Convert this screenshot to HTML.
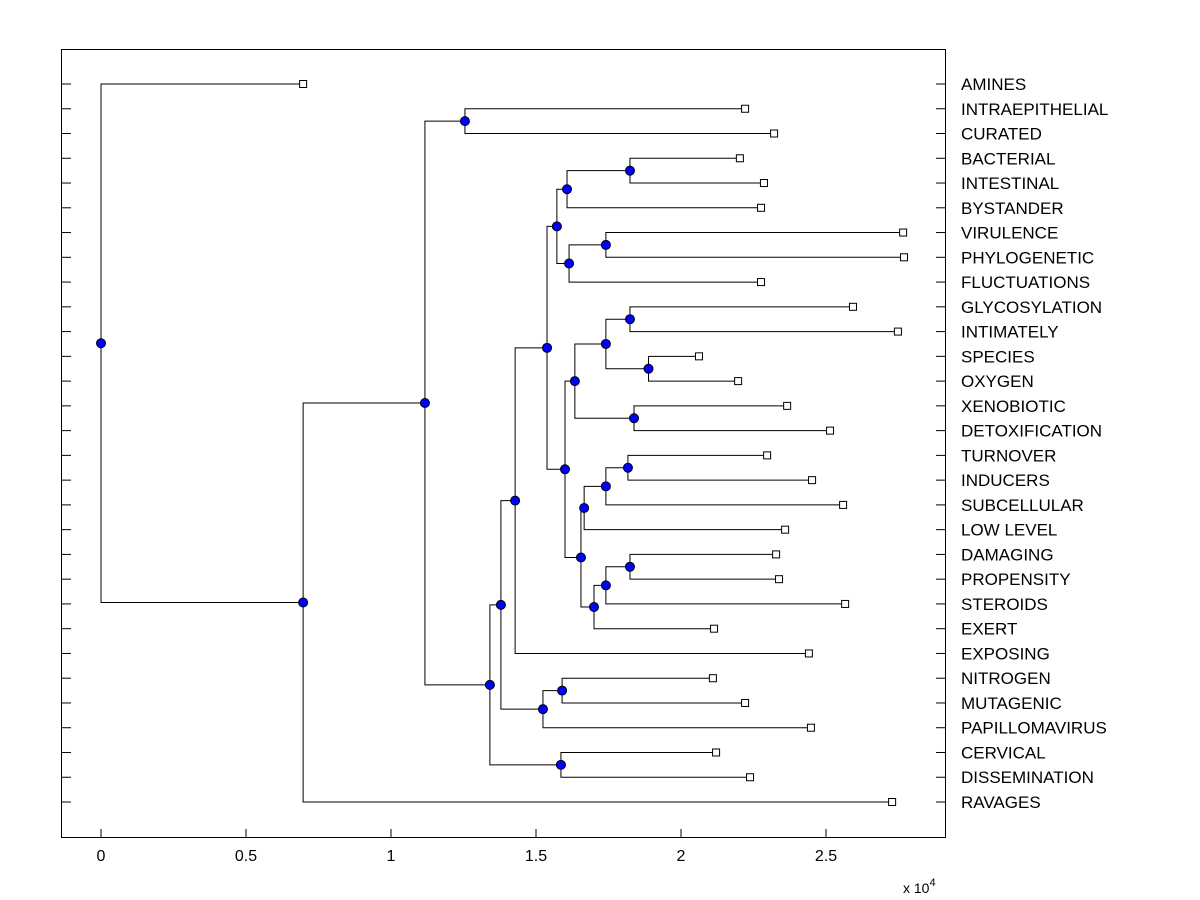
<!DOCTYPE html>
<html><head><meta charset="utf-8"><style>
body{margin:0;background:#fff;}
svg{display:block;font-family:"Liberation Sans",Arial,sans-serif;}
</style></head><body>
<svg id="chart" width="1200" height="900" viewBox="0 0 1200 900" xmlns="http://www.w3.org/2000/svg">
<rect x="0" y="0" width="1200" height="900" fill="#fff"/>
<rect x="61.5" y="49.5" width="884" height="788" fill="#fff" stroke="#000" stroke-width="1"/>
<g id="g"></g>
</svg>
<script>
const leafNames=["AMINES","INTRAEPITHELIAL","CURATED","BACTERIAL","INTESTINAL","BYSTANDER","VIRULENCE","PHYLOGENETIC","FLUCTUATIONS","GLYCOSYLATION","INTIMATELY","SPECIES","OXYGEN","XENOBIOTIC","DETOXIFICATION","TURNOVER","INDUCERS","SUBCELLULAR","LOW LEVEL","DAMAGING","PROPENSITY","STEROIDS","EXERT","EXPOSING","NITROGEN","MUTAGENIC","PAPILLOMAVIRUS","CERVICAL","DISSEMINATION","RAVAGES"];
const leafValues=[0.697,2.221,2.321,2.203,2.286,2.276,2.766,2.769,2.276,2.593,2.748,2.062,2.197,2.366,2.514,2.297,2.452,2.559,2.359,2.328,2.338,2.566,2.114,2.441,2.110,2.221,2.448,2.121,2.238,2.728];
const mergeLeft=[1,3,31,6,33,32,9,11,36,13,38,15,41,42,19,44,45,43,40,35,49,24,51,27,50,54,30,56,0];
const mergeRight=[2,4,5,7,8,34,10,12,37,14,39,16,17,18,20,21,22,46,47,48,23,25,26,28,52,53,55,29,57];
const mergeHeights=[1.255,1.824,1.607,1.741,1.614,1.572,1.824,1.888,1.741,1.838,1.634,1.817,1.741,1.666,1.824,1.741,1.700,1.655,1.600,1.538,1.428,1.590,1.524,1.586,1.379,1.341,1.117,0.697,0];
const xTicks=[0,0.5,1,1.5,2,2.5];
const xTickLabels=["0","0.5","1","1.5","2","2.5"];

const NS="http://www.w3.org/2000/svg";
const g=document.getElementById('g');
const X=v=>101+v*290;
const Y=i=>84+i*(802-84)/(leafNames.length-1);
function mk(t,a){const e=document.createElementNS(NS,t);for(const k in a)e.setAttribute(k,a[k]);g.appendChild(e);return e;}
const nx=[],ny=[];
leafNames.forEach((n,i)=>{nx[i]=X(leafValues[i]);ny[i]=Y(i);});
const N=leafNames.length;
for(let k=0;k<mergeLeft.length;k++){const id=N+k;nx[id]=X(mergeHeights[k]);ny[id]=(ny[mergeLeft[k]]+ny[mergeRight[k]])/2;}
for(let k=0;k<mergeLeft.length;k++){
  const id=N+k,a=mergeLeft[k],b=mergeRight[k];
  const p=mk('path',{d:`M${nx[a]},${ny[a]}H${nx[id]}V${ny[b]}H${nx[b]}`,fill:'none',stroke:'#000','stroke-width':1});
  
  
}
leafNames.forEach((n,i)=>{
  const r=mk('rect',{x:nx[i]-3.5,y:ny[i]-3.5,width:7,height:7,fill:'#fff',stroke:'#000','stroke-width':1});
  
  
  const t1=mk('line',{x1:61.5,x2:71,y1:ny[i],y2:ny[i],stroke:'#000'});
  
  
  const t2=mk('line',{x1:936,x2:945.5,y1:ny[i],y2:ny[i],stroke:'#000'});
  
  
  const tx=mk('text',{x:961,y:ny[i]+6,'font-size':'17px',fill:'#000'});
  tx.textContent=n;
  
  
});
for(let k=0;k<mergeLeft.length;k++){
  const id=N+k;
  const c=mk('circle',{cx:nx[id],cy:ny[id],r:4.5,fill:'#0000ff',stroke:'#000','stroke-width':1});
  
  
}
xTicks.forEach((v,i)=>{
  const l1=mk('line',{x1:X(v),x2:X(v),y1:837.5,y2:829,stroke:'#000'});
  
  
  const t=mk('text',{x:X(v),y:861,'font-size':'16px','text-anchor':'middle'});
  t.textContent=xTickLabels[i];
  
  
});
const ex=mk('text',{x:903,y:893,'font-size':'14px'});
ex.innerHTML='x 10<tspan dy="-7" font-size="11px">4</tspan>';


</script>
</body></html>
